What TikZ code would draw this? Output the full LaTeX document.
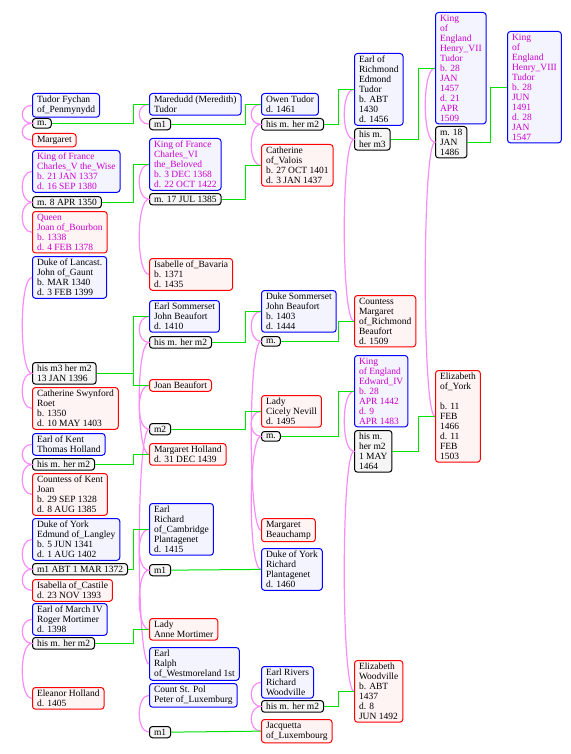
\documentclass[tikz,border=0pt]{standalone}
\usepackage{fontspec}
\setmainfont{Liberation Serif}
\definecolor{kin}{RGB}{250,140,250}
\definecolor{descent}{RGB}{0,225,0}
\definecolor{crown}{RGB}{204,0,204}
\definecolor{hisfill}{RGB}{244,244,255}
\definecolor{herfill}{RGB}{255,244,244}
\begin{document}
\begin{tikzpicture}
[x=1pt,y=-1pt,
 every node/.style={anchor=north west,align=left,rounded corners=3pt,
                    line width=1pt,inner xsep=4.5pt,inner ysep=2.5pt,
                    font=\fontsize{9.5}{10}\selectfont},
 he/.style={draw=blue,fill=hisfill},
 she/.style={draw=red,fill=herfill},
 wed/.style={draw=black,fill=gray!8},
 royal/.style={text=crown},
 issue/.style={draw=descent,line width=1pt},
 couple/.style={draw=kin,line width=1.2pt,out=180,in=180,distance=13pt}]
\useasboundingbox (0,0) rectangle (570,754);
% first generation
\node[he] (tf) at (32,93) {Tudor Fychan\\of\_Penmynydd};
\node[wed] (mtf) at (32,118) {m.};
\node[she] (mg) at (32,133) {Margaret};
\node[he,royal] (cv) at (32,150) {King of France\\Charles\_V the\_Wise\\b. 21 JAN 1337\\d. 16 SEP 1380};
\node[wed] (mcv) at (32,196) {m. 8 APR 1350};
\node[she,royal] (jb) at (32,211) {Queen\\Joan of\_Bourbon\\b. 1338\\d. 4 FEB 1378};
\node[he] (jg) at (32,256) {Duke of Lancast.\\John of\_Gaunt\\b. MAR 1340\\d. 3 FEB 1399};
\node[wed] (mjg) at (32,362) {his m3 her m2\\13 JAN 1396};
\node[she] (cs) at (32,387) {Catherine Swynford\\Roet\\b. 1350\\d. 10 MAY 1403};
\node[he] (th) at (32,433) {Earl of Kent\\Thomas Holland};
\node[wed] (mth) at (32,458) {his m. her m2};
\node[she] (jk) at (32,473) {Countess of Kent\\Joan\\b. 29 SEP 1328\\d. 8 AUG 1385};
\node[he] (el) at (32,518) {Duke of York\\Edmund of\_Langley\\b. 5 JUN 1341\\d. 1 AUG 1402};
\node[wed] (mel) at (32,563) {m1 ABT 1 MAR 1372};
\node[she] (ic) at (32,579) {Isabella of\_Castile\\d. 23 NOV 1393};
\node[he] (rm) at (32,603) {Earl of March IV\\Roger Mortimer\\d. 1398};
\node[wed] (mrm) at (32,637) {his m. her m2};
\node[she] (eh) at (32,687) {Eleanor Holland\\d. 1405};
% second generation
\node[he] (mt) at (149,93) {Maredudd (Meredith)\\Tudor};
\node[wed] (mmt) at (149,118) {m1};
\node[he,royal] (c6) at (149,138) {King of France\\Charles\_VI\\the\_Beloved\\b. 3 DEC 1368\\d. 22 OCT 1422};
\node[wed] (mc6) at (149,193) {m. 17 JUL 1385};
\node[she] (ib) at (149,258) {Isabelle of\_Bavaria\\b. 1371\\d. 1435};
\node[he] (jbe) at (149,300) {Earl Sommerset\\John Beaufort\\d. 1410};
\node[wed] (mjbe) at (149,336) {his m. her m2};
\node[she] (jbf) at (149,379) {Joan Beaufort};
\node[wed] (mjbf) at (149,423) {m2};
\node[she] (mh) at (149,443) {Margaret Holland\\d. 31 DEC 1439};
\node[he] (rc) at (149,503) {Earl\\Richard\\of\_Cambridge\\Plantagenet\\d. 1415};
\node[wed] (mrc) at (149,564) {m1};
\node[she] (am) at (149,618) {Lady\\Anne Mortimer};
\node[he] (rw) at (149,647) {Earl\\Ralph\\of\_Westmoreland 1st};
\node[he] (pl) at (149,683) {Count St. Pol\\Peter of\_Luxemburg};
\node[wed] (mpl) at (149,726) {m1};
% third generation
\node[he] (ot) at (261,93) {Owen Tudor\\d. 1461};
\node[wed] (mot) at (261,118) {his m. her m2};
\node[she] (cva) at (261,144) {Catherine\\of\_Valois\\b. 27 OCT 1401\\d. 3 JAN 1437};
\node[he] (jbd) at (261,290) {Duke Sommerset\\John Beaufort\\b. 1403\\d. 1444};
\node[wed] (mjbd) at (261,336) {m.};
\node[she] (cn) at (261,395) {Lady\\Cicely Nevill\\d. 1495};
\node[wed] (mcn) at (261,431) {m.};
\node[she] (mb) at (261,518) {Margaret\\Beauchamp};
\node[he] (ry) at (261,548) {Duke of York\\Richard\\Plantagenet\\d. 1460};
\node[he] (rwo) at (261,666) {Earl Rivers\\Richard\\Woodville};
\node[wed] (mrwo) at (261,700) {his m. her m2};
\node[she] (jl) at (261,719) {Jacquetta\\of\_Luxembourg};
% fourth generation
\node[he] (et) at (354,53) {Earl of\\Richmond\\Edmond\\Tudor\\b. ABT\\1430\\d. 1456};
\node[wed] (met) at (354,128) {his m.\\her m3};
\node[she] (mbf) at (354,295) {Countess\\Margaret\\of\_Richmond\\Beaufort\\d. 1509};
\node[he,royal] (e4) at (354,355) {King\\of England\\Edward\_IV\\b. 28\\APR 1442\\d. 9\\APR 1483};
\node[wed] (me4) at (354,430) {his m.\\her m2\\1 MAY\\1464};
\node[she] (ew) at (354,660) {Elizabeth\\Woodville\\b. ABT\\1437\\d. 8\\JUN 1492};
% fifth and sixth
\node[he,royal] (h7) at (435,12) {King\\of\\England\\Henry\_VII\\Tudor\\b. 28\\JAN\\1457\\d. 21\\APR\\1509};
\node[wed] (mh7) at (435,126) {m. 18\\JAN\\1486};
\node[she] (ey) at (435,370) {Elizabeth\\of\_York\\~\\b. 11\\FEB\\1466\\d. 11\\FEB\\1503};
\node[he,royal] (h8) at (507,31) {King\\of\\England\\Henry\_VIII\\Tudor\\b. 28\\JUN\\1491\\d. 28\\JAN\\1547};
% couples
\draw[couple] (tf.west) to (mtf.west) to (mg.west);
\draw[couple] (cv.west) to (mcv.west) to (jb.west);
\draw[couple] (jg.west) to (mjg.west) to (cs.west);
\draw[couple] (th.west) to (mth.west) to (jk.west);
\draw[couple] (el.west) to (mel.west) to (ic.west);
\draw[couple] (rm.west) to (mrm.west) to (eh.west);
\draw[couple] (mt.west) to (mmt.west);
\draw[couple] (c6.west) to (mc6.west) to (ib.west);
\draw[couple] (jbe.west) to (mjbe.west) to (mh.west);
\draw[couple] (jbf.west) to (mjbf.west) to (rw.west);
\draw[couple] (rc.west) to (mrc.west) to (am.west);
\draw[couple] (pl.west) to (mpl.west);
\draw[couple] (ot.west) to (mot.west) to (cva.west);
\draw[couple] (jbd.west) to (mjbd.west) to (mb.west);
\draw[couple] (cn.west) to (mcn.west) to (ry.west);
\draw[couple] (rwo.west) to (mrwo.west) to (jl.west);
\draw[couple] (et.west) to (met.west) to (mbf.west);
\draw[couple] (e4.west) to (me4.west) to (ew.west);
\draw[couple] (h7.west) to (mh7.west) to (ey.west);
% children
\draw[issue] (mtf.east) -| ([xshift=-16pt]mt.west) -- (mt.west);
\draw[issue] (mcv.east) -| ([xshift=-16pt]c6.west) -- (c6.west);
\draw[issue] (mjg.east) -| ([xshift=-16pt]jbe.west) -- (jbe.west);
\draw[issue] (mjg.east) -| ([xshift=-16pt]jbf.west) -- (jbf.west);
\draw[issue] (mth.east) -| ([xshift=-16pt]mh.west) -- (mh.west);
\draw[issue] (mel.east) -| ([xshift=-16pt]rc.west) -- (rc.west);
\draw[issue] (mrm.east) -| ([xshift=-16pt]am.west) -- (am.west);
\draw[issue] (mmt.east) -| ([xshift=-16pt]ot.west) -- (ot.west);
\draw[issue] (mc6.east) -| ([xshift=-16pt]cva.west) -- (cva.west);
\draw[issue] (mjbe.east) -| ([xshift=-16pt]jbd.west) -- (jbd.west);
\draw[issue] (mjbf.east) -| ([xshift=-16pt]cn.west) -- (cn.west);
\draw[issue] (mrc.east) -- (ry.west);
\draw[issue] (mpl.east) -- (jl.west);
\draw[issue] (mot.east) -| ([xshift=-16pt]et.west) -- (et.west);
\draw[issue] (mjbd.east) -| ([xshift=-16pt]mbf.west) -- (mbf.west);
\draw[issue] (mcn.east) -| ([xshift=-16pt]e4.west) -- (e4.west);
\draw[issue] (mrwo.east) -| ([xshift=-16pt]ew.west) -- (ew.west);
\draw[issue] (met.east) -| ([xshift=-17pt]h7.west) -- (h7.west);
\draw[issue] (me4.east) -| ([xshift=-17pt]ey.west) -- (ey.west);
\draw[issue] (mh7.east) -| ([xshift=-17pt]h8.west) -- (h8.west);
\end{tikzpicture}
\end{document}
